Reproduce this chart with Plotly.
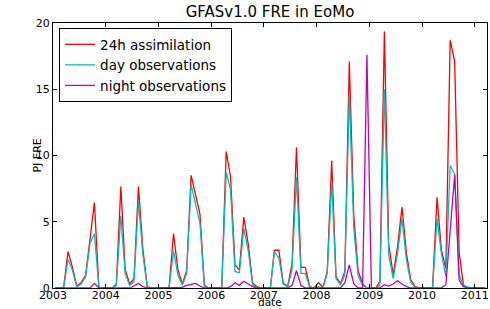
import plotly.graph_objects as go

# monthly values, Jan 2003 .. Mar 2011 (mid-month)
months = [f"{2003 + k // 12}-{k % 12 + 1:02d}-15" for k in range(99)]

assim_24h = [
    0, 0, 0, 2.75, 1.6, 0.15, 0.4, 0.95, 3.6, 6.45, 0.05, 0,
    0, 0, 0.3, 7.65, 1.4, 0.3, 0.7, 7.65, 2.9, 0.1, 0, 0,
    0, 0, 0, 4.1, 1.4, 0.3, 1.3, 8.5, 7.0, 5.6, 0.2, 0,
    0, 0, 0.05, 10.3, 8.4, 1.75, 1.35, 5.35, 3.3, 0.35, 0.1, 0,
    0, 0, 2.85, 2.85, 0.35, 0.15, 1.8, 10.6, 1.55, 1.55, 0.1, 0,
    0.4, 0.05, 1.25, 9.6, 0.85, 0.35, 1.25, 17.1, 5.5, 1.3, 0.3, 0,
    0, 0, 0.5, 19.35, 3.3, 1.0, 3.1, 6.1, 2.6, 0.6, 0.1, 0,
    0, 0, 0.05, 6.85, 2.85, 1.5, 18.7, 17.1, 2.7, 0.2, 0.05, 0,
    0, 0, 0,
]

day_obs = [
    0, 0, 0, 2.15, 1.35, 0.1, 0.3, 0.85, 3.4, 4.1, 0, 0,
    0, 0, 0.2, 5.45, 1.1, 0.2, 0.5, 6.5, 2.5, 0.05, 0, 0,
    0, 0, 0, 2.8, 1.0, 0.2, 1.1, 7.8, 6.3, 4.9, 0.1, 0,
    0, 0, 0, 8.75, 7.4, 1.25, 1.15, 4.5, 2.8, 0.2, 0.05, 0,
    0, 0, 2.75, 2.25, 0.3, 0.1, 1.35, 8.4, 1.1, 1.1, 0.05, 0,
    0.1, 0, 1.1, 8.0, 0.7, 0.25, 1.0, 14.6, 4.5, 0.9, 0.2, 0,
    0, 0, 0.2, 15.0, 2.5, 0.7, 2.6, 5.25, 2.1, 0.4, 0.05, 0,
    0, 0, 0, 5.25, 2.6, 0.85, 9.25, 8.6, 1.0, 0.15, 0.05, 0,
    0, 0, 0,
]

night_obs = [
    0, 0, 0, 0, 0, 0, 0, 0, 0, 0.35, 0, 0,
    0, 0, 0, 0, 0, 0, 0.15, 0.35, 0.1, 0, 0, 0,
    0, 0, 0, 0, 0, 0.05, 0.2, 0.3, 0.35, 0.15, 0, 0,
    0, 0, 0, 0, 0.1, 0.4, 0.2, 0.5, 0.3, 0.1, 0, 0,
    0, 0, 0, 0, 0, 0, 0.2, 1.3, 0.2, 0, 0, 0,
    0, 0, 0, 0, 0, 0, 0.4, 1.75, 0.3, 0, 0, 17.6,
    0, 0, 0, 0.25, 0.15, 0.3, 0.55, 0.3, 0.1, 0, 0, 0,
    0, 0, 0, 0, 0, 0.25, 4.5, 8.55, 0.6, 0.1, 0, 0,
    0, 0, 0,
]

year_ticks = [f"{y}-01-01" for y in range(2003, 2012)]
year_labels = [str(y) for y in range(2003, 2012)]

FONT = "DejaVu Sans"

fig = go.Figure()
fig.add_trace(go.Scatter(x=months, y=assim_24h, mode="lines", name="24h assimilation",
                         line=dict(color="#ff0000", width=1.3)))
fig.add_trace(go.Scatter(x=months, y=day_obs, mode="lines", name="day observations",
                         line=dict(color="#00bfbf", width=1.3)))
fig.add_trace(go.Scatter(x=months, y=night_obs, mode="lines", name="night observations",
                         line=dict(color="#bf00bf", width=1.3)))

fig.update_layout(
    width=490, height=309,
    margin=dict(l=53, r=1, t=23, b=21),
    paper_bgcolor="white", plot_bgcolor="white",
    font=dict(family=FONT, size=11, color="black"),
    title=dict(text="GFASv1.0 FRE in EoMo", x=0.5, xref="paper", xanchor="center",
               y=1 - 12 / 309, yref="container", yanchor="middle",
               font=dict(family=FONT, size=15, color="black")),
    showlegend=True,
    legend=dict(x=0.014, y=0.981, xanchor="left", yanchor="top",
                bordercolor="black", borderwidth=1, bgcolor="white",
                font=dict(family=FONT, size=13.5, color="black"),
                tracegroupgap=0),
    xaxis=dict(type="date", range=["2003-01-01", "2011-03-27"],
               tickmode="array", tickvals=year_ticks, ticktext=year_labels,
               ticks="inside", ticklen=4, tickcolor="black",
               showline=True, linecolor="black", linewidth=1, mirror="ticks",
               showgrid=False, zeroline=False, ticklabeloverflow="allow",
               ticklabelstandoff=-3,
               tickfont=dict(family=FONT, size=11)),
    yaxis=dict(range=[0, 20], tickvals=[0, 5, 10, 15, 20],
               ticks="inside", ticklen=4, tickcolor="black",
               showline=True, linecolor="black", linewidth=1, mirror="ticks",
               showgrid=False, zeroline=False,
               tickfont=dict(family=FONT, size=11)),
    annotations=[
        dict(text="date", xref="paper", yref="paper", x=0.5, y=-21 / 265,
             xanchor="center", yanchor="bottom", showarrow=False, borderpad=0,
             font=dict(family=FONT, size=10.5)),
        dict(text="PJ FRE", xref="paper", yref="paper", x=-16 / 436, y=0.5,
             xanchor="center", yanchor="middle", textangle=-90, showarrow=False,
             font=dict(family=FONT, size=11)),
    ],
)

fig.write_html("out.html",
               config={"displayModeBar": False},
               post_script="document.body.style.margin='0px';document.body.style.overflow='hidden';")
